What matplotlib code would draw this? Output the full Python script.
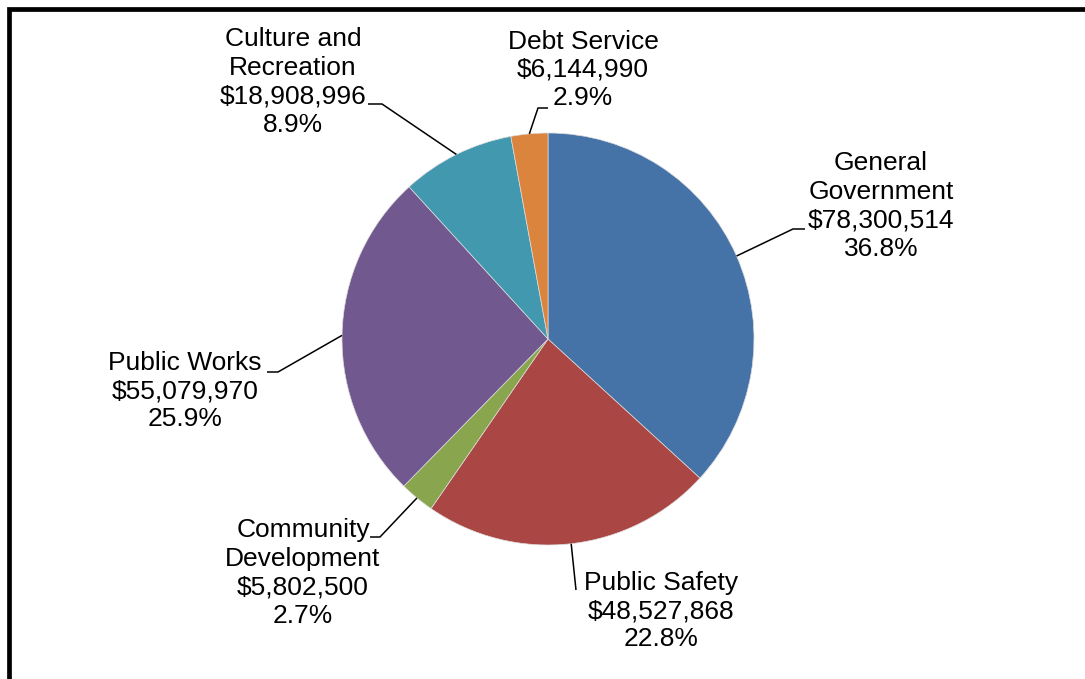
import numpy as np
import matplotlib
matplotlib.use("Agg")
import matplotlib.pyplot as plt

plt.rcParams['font.family'] = ['Liberation Sans', 'DejaVu Sans']

# General fund expenditures by function
categories = ["General\nGovernment", "Public Safety", "Community\nDevelopment",
              "Public Works", "Culture and\nRecreation", "Debt Service"]
amounts = [78300514, 48527868, 5802500, 55079970, 18908996, 6144990]
colors = ["#4572A7", "#AA4643", "#89A54E", "#71588F", "#4198AF", "#DB843D"]

W, H = 1085, 679

# label block centres and leader elbows, in pixel units (y down)
label_xy = [(881, 206), (661, 611), (303, 573), (185, 391), (293, 82), (583, 70)]
elbow = [((805, 229), (793, 229)),
         ((576, 590), (576, 590)),
         ((370, 537), (380, 537)),
         ((267, 372), (278, 372)),
         ((368, 104), (382, 104)),
         ((548, 108), (538, 108))]

center = (548, H - 339)
radius = 206

fig = plt.figure(figsize=(W / 100, H / 100), dpi=100)
ax = fig.add_axes([0, 0, 1, 1])

wedges, _ = ax.pie(amounts, colors=colors, startangle=90, counterclock=False,
                   center=center, radius=radius,
                   wedgeprops=dict(edgecolor="#dcdcdc", linewidth=0.5))

total = sum(amounts)
for w, name, amt, (lx, ly), (p0, p1) in zip(wedges, categories, amounts, label_xy, elbow):
    pct = amt / total * 100
    ax.text(lx, H - ly, f"{name}\n${amt:,.0f}\n{pct:.1f}%", ha="center", va="center",
            multialignment="center", fontsize=19, linespacing=1.23, color="black")
    mid = np.deg2rad((w.theta1 + w.theta2) / 2)
    ex = center[0] + radius * np.cos(mid)
    ey = center[1] + radius * np.sin(mid)
    ax.plot([p0[0], p1[0], ex], [H - p0[1], H - p1[1], ey], color="black", lw=1.1,
            solid_capstyle="butt")

# chart frame (right and bottom edges fall outside the image)
ax.plot([9, 9, W + 20], [-20, H - 8.5, H - 8.5], color="black", lw=3.4,
        solid_joinstyle="miter")

ax.set_xlim(0, W)
ax.set_ylim(0, H)
ax.set_aspect("auto")
ax.axis("off")

fig.savefig("out.png", dpi=100, facecolor="white")
